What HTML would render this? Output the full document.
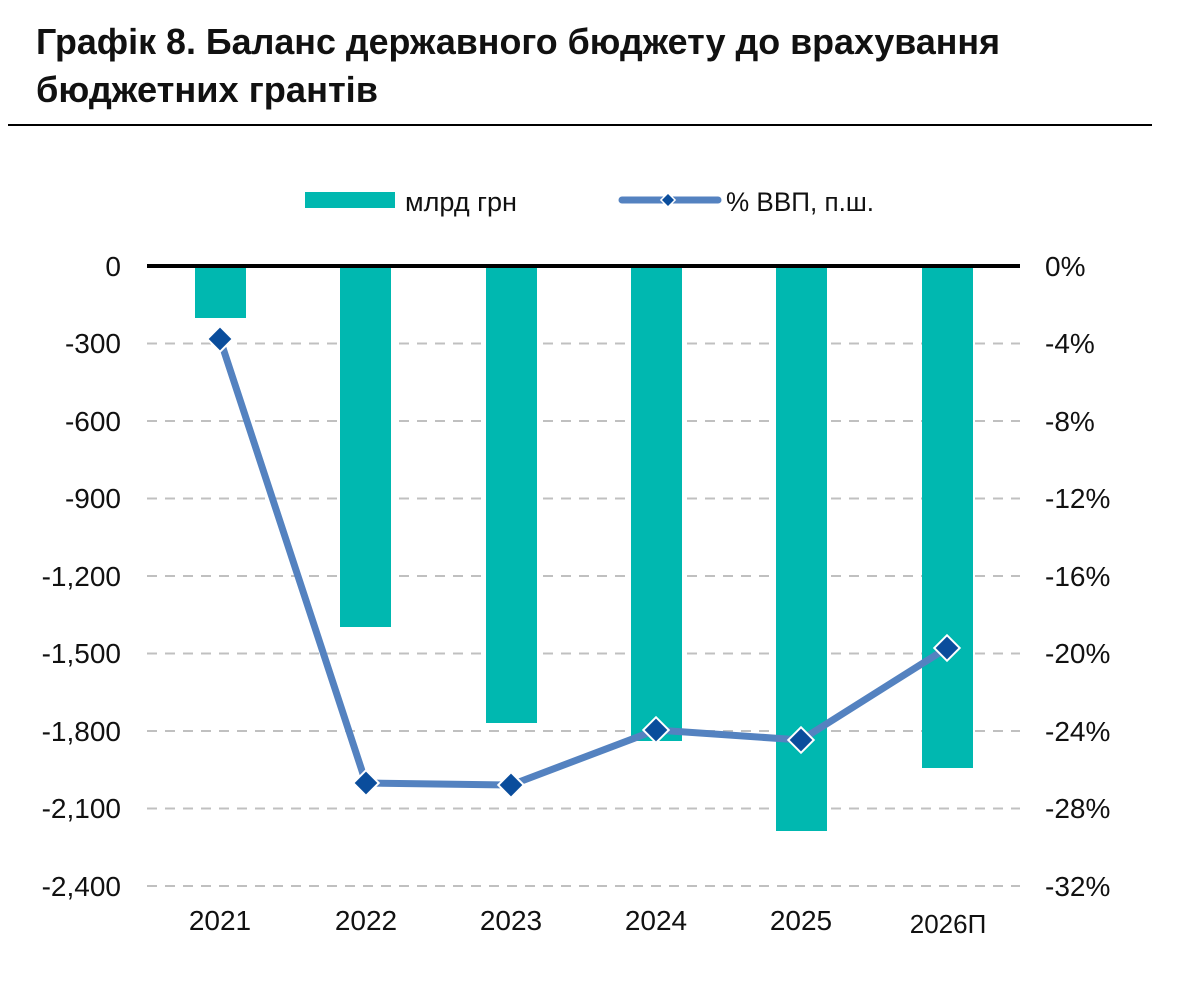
<!DOCTYPE html>
<html><head><meta charset="utf-8"><style>
body{margin:0;background:#fff;width:1185px;height:988px;overflow:hidden}
svg text{font-family:"Liberation Sans Narrow","Liberation Sans",sans-serif}
</style></head><body>
<svg width="1185" height="988" xmlns="http://www.w3.org/2000/svg">
<text x="36" y="54" font-size="36" font-weight="bold" fill="#111" textLength="964" lengthAdjust="spacingAndGlyphs">Графік 8. Баланс державного бюджету до врахування</text>
<text x="36" y="102" font-size="36" font-weight="bold" fill="#111" textLength="342" lengthAdjust="spacingAndGlyphs">бюджетних грантів</text>
<line x1="8" y1="125" x2="1152" y2="125" stroke="#000" stroke-width="2"/>
<rect x="305" y="192" width="90" height="16" fill="#00b8b0"/>
<text x="405" y="211" font-size="27" fill="#111" textLength="112" lengthAdjust="spacingAndGlyphs">млрд грн</text>
<line x1="622" y1="200" x2="718" y2="200" stroke="#5482c0" stroke-width="7" stroke-linecap="round"/>
<rect x="663" y="195" width="10" height="10" fill="#0a4d9c" stroke="#fff" stroke-width="1.5" transform="rotate(45 668 200)"/>
<text x="726" y="211" font-size="27" fill="#111" textLength="148" lengthAdjust="spacingAndGlyphs">% ВВП, п.ш.</text>
<g stroke="#c0c0c0" stroke-width="2" stroke-dasharray="10,8">
<line x1="147" y1="343.5" x2="1020" y2="343.5"/><line x1="147" y1="421" x2="1020" y2="421"/>
<line x1="147" y1="498.5" x2="1020" y2="498.5"/><line x1="147" y1="576" x2="1020" y2="576"/>
<line x1="147" y1="653.5" x2="1020" y2="653.5"/><line x1="147" y1="731" x2="1020" y2="731"/>
<line x1="147" y1="808.5" x2="1020" y2="808.5"/><line x1="147" y1="886" x2="1020" y2="886"/>
</g>
<g fill="#00b8b0">
<rect x="195" y="266" width="51" height="52"/><rect x="340" y="266" width="51" height="361"/>
<rect x="486" y="266" width="51" height="457"/><rect x="631" y="266" width="51" height="475"/>
<rect x="776" y="266" width="51" height="565"/><rect x="922" y="266" width="51" height="502"/>
</g>
<line x1="147" y1="266" x2="1020" y2="266" stroke="#000" stroke-width="4"/>
<polyline points="220,339 366,783 511,785 656,730 801,740 947,648" fill="none" stroke="#5482c0" stroke-width="7" stroke-linejoin="round"/>
<g fill="#0a4d9c" stroke="#fff" stroke-width="2">
<rect x="211" y="330" width="18" height="18" transform="rotate(45 220 339)"/>
<rect x="357" y="774" width="18" height="18" transform="rotate(45 366 783)"/>
<rect x="502" y="776" width="18" height="18" transform="rotate(45 511 785)"/>
<rect x="647" y="721" width="18" height="18" transform="rotate(45 656 730)"/>
<rect x="792" y="731" width="18" height="18" transform="rotate(45 801 740)"/>
<rect x="938" y="639" width="18" height="18" transform="rotate(45 947 648)"/>
</g>
<g font-size="28" fill="#111" text-anchor="end">
<text x="121" y="276">0</text><text x="121" y="353">-300</text><text x="121" y="431">-600</text>
<text x="121" y="508">-900</text><text x="121" y="586">-1,200</text><text x="121" y="663">-1,500</text>
<text x="121" y="741">-1,800</text><text x="121" y="818">-2,100</text><text x="121" y="896">-2,400</text>
</g>
<g font-size="28" fill="#111">
<text x="1045" y="276">0%</text><text x="1045" y="353">-4%</text><text x="1045" y="431">-8%</text>
<text x="1045" y="508">-12%</text><text x="1045" y="586">-16%</text><text x="1045" y="663">-20%</text>
<text x="1045" y="741">-24%</text><text x="1045" y="818">-28%</text><text x="1045" y="896">-32%</text>
</g>
<g font-size="28" fill="#111" text-anchor="middle">
<text x="220" y="930">2021</text><text x="366" y="930">2022</text><text x="511" y="930">2023</text>
<text x="656" y="930">2024</text><text x="801" y="930">2025</text><text x="948" y="933" font-size="26">2026П</text>
</g>
</svg>
</body></html>
